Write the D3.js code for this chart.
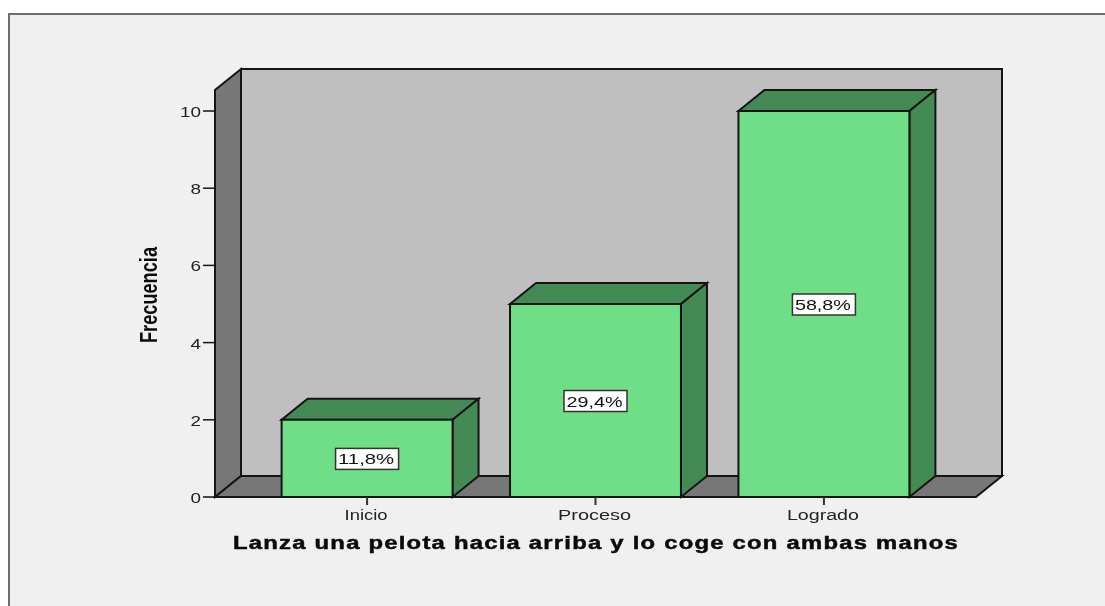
<!DOCTYPE html>
<html><head><meta charset="utf-8">
<script src="https://cdn.jsdelivr.net/npm/d3@7"></script>
<style>html,body{margin:0;padding:0;background:#fff}svg{display:block;filter:blur(.45px)}text{font-family:"Liberation Sans",Arial,sans-serif}</style>
</head><body><svg id="c" width="1105" height="606"></svg>
<script>
const categories = ["Inicio","Proceso","Logrado"];
const frecuencia = [2,5,10];
const porcentaje = ["11,8%","29,4%","58,8%"];
const yTicks = [0,2,4,6,8,10];
const xTitle = "Lanza una pelota hacia arriba y lo coge con ambas manos";
const yTitle = "Frecuencia";

const W=1105,H=606, x0=215,x1=976, yBase=497, yTen=111, yTop=90, dx=26, dy=-21;
const svg=d3.select("#c");
const ink="#141414";
svg.append("rect").attr("width",W).attr("height",H).attr("fill","#fff");
svg.append("rect").attr("x",9).attr("y",14).attr("width",W+20).attr("height",H+20)
  .attr("fill","#f0f0f0").attr("stroke","#6e6e6e").attr("stroke-width",2);

const y=d3.scaleLinear().domain([0,10]).range([yBase,yTen]);
const x=d3.scaleBand().domain(categories).range([x0,x1]).paddingInner(0.2516).paddingOuter(0.2916);
const poly=(pts,fill)=>svg.append("polygon").attr("points",pts.map(p=>p.join(",")).join(" "))
  .attr("fill",fill).attr("stroke",ink).attr("stroke-width",2).attr("stroke-linejoin","miter");

// walls
poly([[x0+dx,yBase+dy],[x1+dx,yBase+dy],[x1+dx,yTop+dy],[x0+dx,yTop+dy]],"#bfbfbf");
poly([[x0,yBase],[x0+dx,yBase+dy],[x0+dx,yTop+dy],[x0,yTop]],"#777777");
poly([[x0,yBase],[x1,yBase],[x1+dx,yBase+dy],[x0+dx,yBase+dy]],"#777777");

// y axis
yTicks.forEach(t=>{
  svg.append("line").attr("x1",x0-12).attr("x2",x0).attr("y1",y(t)).attr("y2",y(t)).attr("stroke",ink).attr("stroke-width",1.5);
  const s=String(t);
  svg.append("text").attr("x",x0-14).attr("y",y(t)+6).attr("text-anchor","end")
    .attr("font-size",15).attr("fill","#222").attr("textLength",s.length*10.5).attr("lengthAdjust","spacingAndGlyphs").text(s);
});

// bars
categories.forEach((c,i)=>{
  const l=x(c),r=l+x.bandwidth(),t=y(frecuencia[i]);
  poly([[l,t],[r,t],[r+dx,t+dy],[l+dx,t+dy]],"#448a54");
  poly([[r,t],[r+dx,t+dy],[r+dx,yBase+dy],[r,yBase]],"#448a54");
  poly([[l,t],[r,t],[r,yBase],[l,yBase]],"#70de86");
  const cx=(l+r)/2;
  svg.append("line").attr("x1",cx).attr("x2",cx).attr("y1",yBase).attr("y2",yBase+8).attr("stroke","#333").attr("stroke-width",2);
  const w=c==="Inicio"?43:c==="Proceso"?73:72;
  svg.append("text").attr("x",cx-1).attr("y",yBase+23).attr("text-anchor","middle").attr("font-size",14)
    .attr("fill","#222").attr("textLength",w).attr("lengthAdjust","spacingAndGlyphs").text(c);
  const my=(t+yBase)/2+1;
  svg.append("rect").attr("x",cx-31.5).attr("y",my-11).attr("width",63).attr("height",21)
    .attr("fill","#fff").attr("stroke","#333").attr("stroke-width",1.5);
  svg.append("text").attr("x",cx-1).attr("y",my+5).attr("text-anchor","middle").attr("font-size",15).attr("fill","#111")
    .attr("textLength",56).attr("lengthAdjust","spacingAndGlyphs").text(porcentaje[i]);
});

// titles
svg.append("text").attr("x",596).attr("y",549).attr("text-anchor","middle").attr("font-size",17.5).attr("font-weight","bold")
  .attr("letter-spacing",0.9).attr("fill","#0a0a0a").attr("stroke","#0a0a0a").attr("stroke-width",0.45)
  .attr("textLength",726).attr("lengthAdjust","spacingAndGlyphs").text(xTitle);
svg.append("text").attr("transform","translate(157,295) rotate(-90)").attr("text-anchor","middle").attr("font-size",24).attr("font-weight","bold")
  .attr("fill","#0a0a0a").attr("textLength",96).attr("lengthAdjust","spacingAndGlyphs").text(yTitle);
</script></body></html>
